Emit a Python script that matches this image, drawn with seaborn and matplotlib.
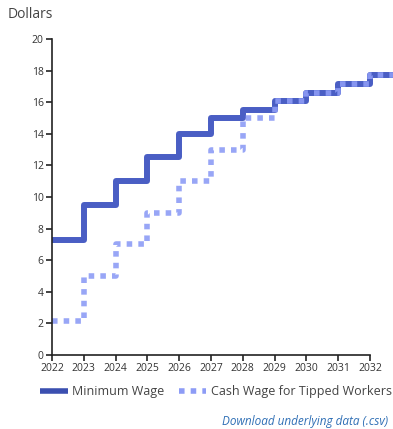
import numpy as np
import pandas as pd
import matplotlib.pyplot as plt
import seaborn as sns

years = [2022, 2023, 2024, 2025, 2026, 2027, 2028, 2029, 2030, 2031, 2032]
minimum_wage = [7.25, 9.50, 11.00, 12.50, 14.00, 15.00, 15.50, 16.10, 16.60, 17.15, 17.70]
tipped_wage = [2.13, 5.00, 7.00, 9.00, 11.00, 13.00, 15.00, 16.10, 16.60, 17.15, 17.70]

min_color = '#4a5ec4'
tip_color = '#8d9cf6'


def extend(vals):
    # carry the last step one year further so it runs off the right edge
    return vals + [vals[-1]]


def main():
    sns.set_style('ticks')
    plt.rcParams['font.family'] = ['Open Sans', 'DejaVu Sans']

    x = years + [years[-1] + 1]
    df = pd.DataFrame({'year': x, 'min': extend(minimum_wage), 'tip': extend(tipped_wage)})

    fig = plt.figure(figsize=(3.93, 4.29), dpi=100)
    ax = fig.add_axes([52 / 393, 1 - 355 / 429, 341 / 393, (355 - 39) / 429])

    sns.lineplot(data=df, x='year', y='min', ax=ax, color=min_color, lw=4.3,
                 drawstyle='steps-post', solid_capstyle='butt')
    sns.lineplot(data=df, x='year', y='tip', ax=ax, color=tip_color, lw=4,
                 drawstyle='steps-post', linestyle=(0, (1, 1.1)), alpha=0.9)

    ax.set_xlim(2022, 2032 + 23 / 31.8)
    ax.set_ylim(0, 20)
    ax.set_xticks(years)
    ax.set_yticks(np.arange(0, 21, 2))
    ax.tick_params(labelsize=7.5, length=4, width=1.2, color='#222222', labelcolor='#333333', pad=2)
    ax.set_xlabel('')
    ax.set_ylabel('')
    sns.despine(ax=ax)
    ax.spines['bottom'].set_bounds(2022, 2032)
    for s in ['left', 'bottom']:
        ax.spines[s].set_color('#222222')
        ax.spines[s].set_linewidth(1.2)

    fig.text(8 / 393, 1 - 15 / 429, 'Dollars', fontsize=10, color='#444444', va='center', ha='left')

    h1 = plt.Line2D([], [], color='#3b4fb0', lw=4, solid_capstyle='butt')
    h2 = plt.Line2D([], [], color=tip_color, lw=4, linestyle=(0, (1, 1.1)))
    fig.legend([h1, h2], ['Minimum Wage', 'Cash Wage for Tipped Workers'], ncol=2,
               loc='center', bbox_to_anchor=(216 / 393, 1 - 392 / 429), frameon=False,
               fontsize=9, handlelength=2.2, handletextpad=0.4, columnspacing=1.1,
               labelcolor='#444444', borderaxespad=0, borderpad=0)

    fig.text(388 / 393, 1 - 421 / 429, 'Download underlying data (.csv)', fontsize=8.5,
             style='italic', color='#2f6fb5', ha='right', va='center')

    fig.savefig('out.png', dpi=100)


if __name__ == '__main__':
    main()
